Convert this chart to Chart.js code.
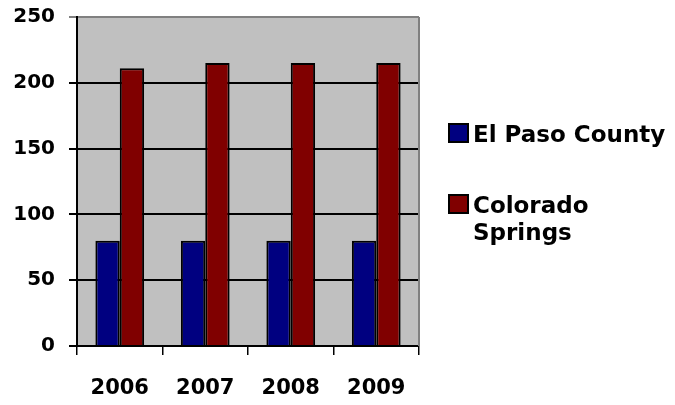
<!DOCTYPE html>
<html>
<head>
<meta charset="utf-8">
<script src="https://cdn.jsdelivr.net/npm/chart.js@4/dist/chart.umd.min.js"></script>
<style>
  html, body { margin: 0; padding: 0; background: #fff; }
  #wrap { width: 675px; height: 405px; }
</style>
</head>
<body>
<div id="wrap"><canvas id="chart"></canvas></div>
<script>
const years = ['2006', '2007', '2008', '2009'];
const elPaso = [80, 80, 80, 80];
const coSprings = [211, 215, 215, 215];
const seriesNames = ['El Paso County', 'Colorado Springs'];
const seriesColors = ['#000080', '#800000'];
const yTicks = [0, 50, 100, 150, 200, 250];

const FONT = '"DejaVu Sans", "Liberation Sans", Arial, sans-serif';

// gray plot background + right border
const plotBg = {
  id: 'plotBg',
  beforeDraw(chart) {
    const { ctx, chartArea: a } = chart;
    ctx.save();
    ctx.fillStyle = '#C0C0C0';
    ctx.fillRect(a.left, a.top, a.right - a.left, a.bottom - a.top);
    ctx.restore();
  },
  afterDatasetsDraw(chart) {
    const { ctx, chartArea: a } = chart;
    ctx.save();
    ctx.strokeStyle = '#808080';
    ctx.lineWidth = 2;
    ctx.beginPath();
    ctx.moveTo(a.right, a.top);
    ctx.lineTo(a.right, a.bottom);
    ctx.stroke();
    ctx.restore();
  }
};

// legend on the right, wraps long names
const sideLegend = {
  id: 'sideLegend',
  afterDraw(chart) {
    const { ctx } = chart;
    const x = 449, maxW = 205, lineH = 27;
    let y = 142;
    ctx.save();
    ctx.font = 'bold 23px ' + FONT;
    ctx.textBaseline = 'alphabetic';
    chart.data.datasets.forEach((ds, i) => {
      ctx.fillStyle = ds.backgroundColor;
      ctx.strokeStyle = '#000';
      ctx.lineWidth = 2;
      ctx.fillRect(x, y - 18, 19, 18);
      ctx.strokeRect(x, y - 18, 19, 18);
      const words = ds.label.split(' ');
      const lines = [];
      let cur = '';
      words.forEach(w => {
        const t = cur ? cur + ' ' + w : w;
        if (ctx.measureText(t).width > maxW && cur) { lines.push(cur); cur = w; }
        else cur = t;
      });
      lines.push(cur);
      ctx.fillStyle = '#000';
      lines.forEach((l, k) => ctx.fillText(l, x + 24, y + k * lineH));
      y += 71 + (lines.length - 1) * lineH;
    });
    ctx.restore();
  }
};

new Chart(document.getElementById('chart'), {
  type: 'bar',
  data: {
    labels: years,
    datasets: [
      { label: seriesNames[0], data: elPaso, backgroundColor: seriesColors[0], borderColor: '#000', borderWidth: 2 },
      { label: seriesNames[1], data: coSprings, backgroundColor: seriesColors[1], borderColor: '#000', borderWidth: 2 }
    ]
  },
  options: {
    responsive: true,
    maintainAspectRatio: false,
    animation: false,
    layout: { padding: { top: 17, right: 256, left: 0, bottom: 0 } },
    datasets: { bar: { categoryPercentage: 0.57, barPercentage: 1 } },
    plugins: {
      legend: { display: false },
      tooltip: { enabled: false }
    },
    scales: {
      x: {
        grid: { offset: true, drawOnChartArea: false, tickLength: 9, color: '#000', lineWidth: 1.5 },
        border: { color: '#000', width: 2 },
        ticks: { color: '#000', font: { family: FONT, size: 21, weight: 'bold' }, padding: 21, maxRotation: 0 },
        afterFit(scale) { scale.height = 59; }
      },
      y: {
        min: 0,
        max: 250,
        afterBuildTicks(scale) { scale.ticks = yTicks.map(v => ({ value: v })); },
        grid: {
          tickLength: 8,
          lineWidth: 2,
          color: ctx => (ctx.tick && ctx.tick.value === 250 ? '#808080' : '#000')
        },
        border: { color: '#000', width: 2 },
        ticks: { color: '#000', font: { family: FONT, size: 20, weight: 'bold' }, padding: 14 },
        afterFit(scale) {
          scale.width = 77;
          scale.paddingTop = 0;
          scale.paddingBottom = 0;
        }
      }
    }
  },
  plugins: [plotBg, sideLegend]
});
</script>
</body>
</html>
